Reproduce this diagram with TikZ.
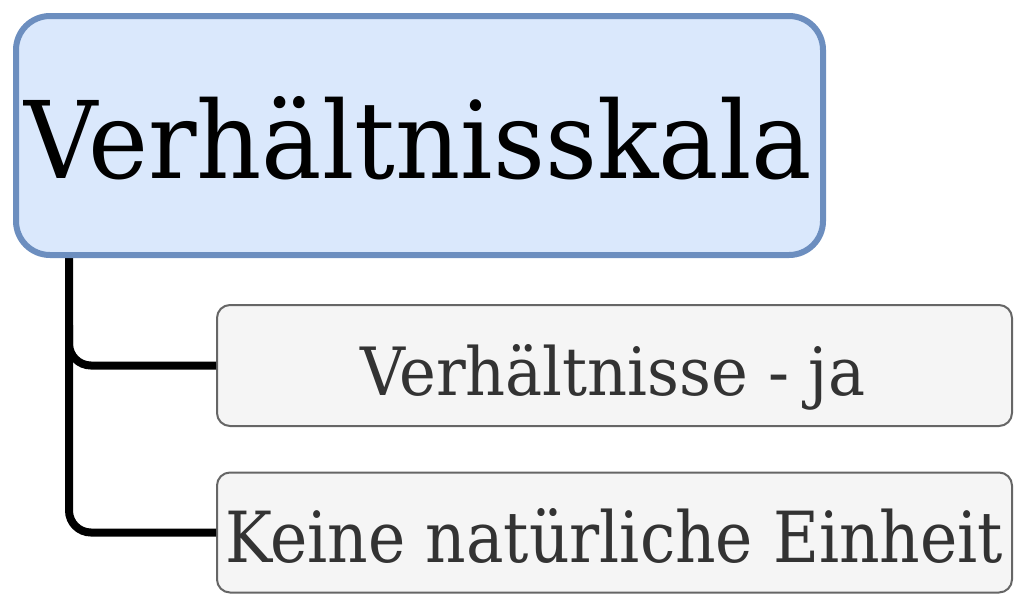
\documentclass[tikz,border=0pt]{standalone}
\usepackage{fontspec}
\setmainfont{DejaVu Serif}
\usepackage{graphicx}
\definecolor{rootline}{HTML}{6C8EBF}
\definecolor{rootfill}{HTML}{DAE8FC}
\definecolor{leafline}{HTML}{666666}
\definecolor{leaffill}{HTML}{F5F5F5}
\definecolor{leaftext}{HTML}{333333}
\tikzset{
  rootbox/.style={rectangle, rounded corners=34pt, draw=rootline, fill=rootfill, line width=6pt, inner sep=0pt},
  leafbox/.style={rectangle, rounded corners=13pt, draw=leafline, fill=leaffill, line width=2pt, inner sep=0pt},
  label/.style={anchor=base west, inner sep=0pt, outer sep=0pt},
  conn/.style={draw=black, line width=8pt, rounded corners=22pt}
}
\begin{document}
\begin{tikzpicture}[x=1pt,y=-1pt]
\useasboundingbox (0,0) rectangle (1024,606);
% boxes
\node[leafbox, minimum width=795pt, minimum height=121pt] (b1) at (614.5,365.5) {};
\node[leafbox, minimum width=795pt, minimum height=120pt] (b2) at (614.5,532.5) {};
% connectors
\coordinate (trunk) at (69,250);
\coordinate (fork) at (69,325);
\draw[conn] (trunk) |- (b2.west);
\draw[conn] (fork) |- (b1.west);
\node[rootbox, minimum width=807pt, minimum height=239pt] (root) at (419.5,135.5) {};
% texts
\node[label] (t0) at (24,178) {\resizebox{788pt}{82pt}{Verhältnisskala}};
\node[label, text=leaftext] (t1) at (360,395) {\resizebox{505pt}{51pt}{Verhältnisse - ja}};
\node[label, text=leaftext] (t2) at (225,562) {\resizebox{778pt}{54pt}{Keine natürliche Einheit}};
\end{tikzpicture}
\end{document}
